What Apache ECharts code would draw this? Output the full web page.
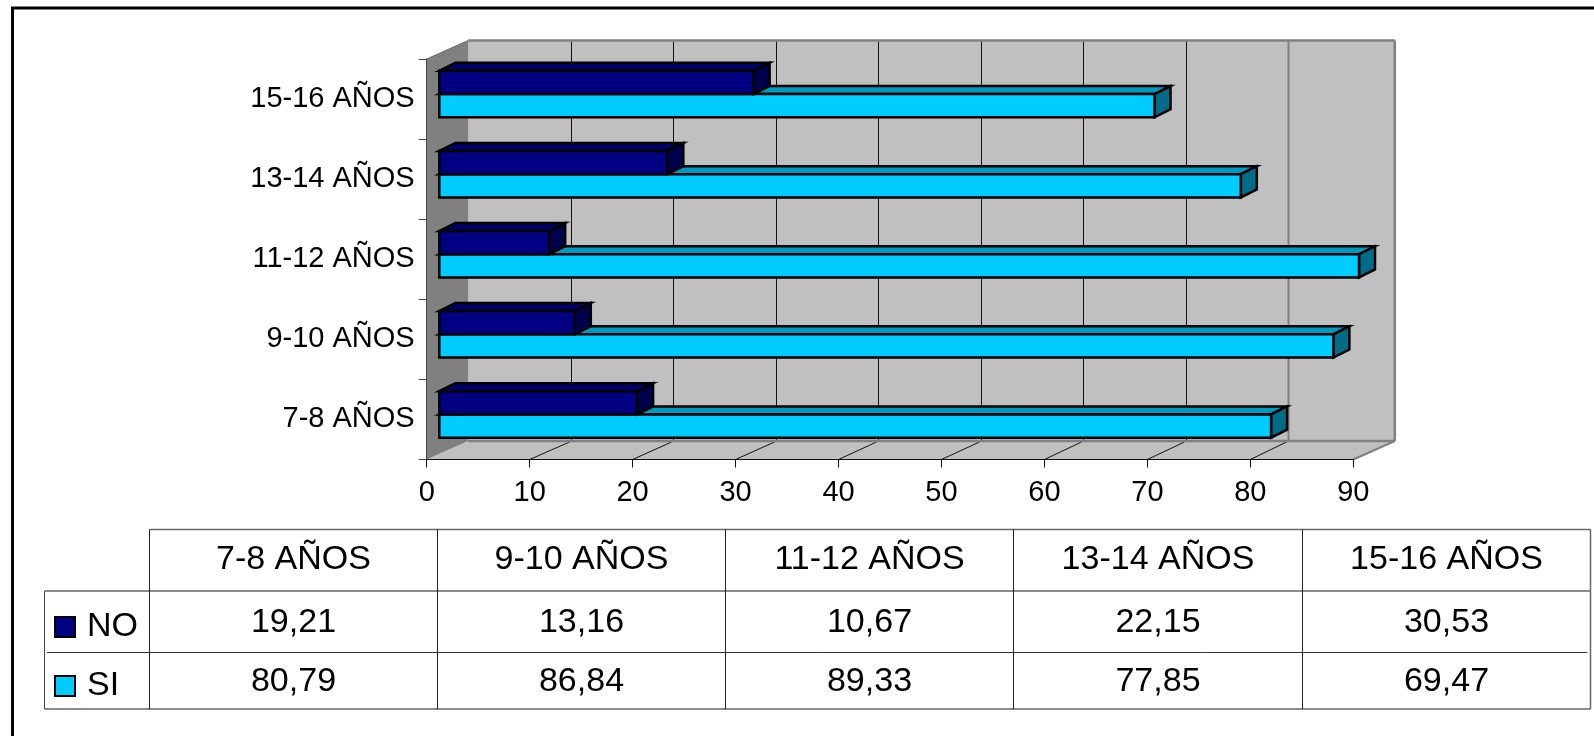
<!DOCTYPE html>
<html><head><meta charset="utf-8">
<style>html,body{margin:0;padding:0;background:#fff}#c{width:1594px;height:736px}</style>
<script src="https://cdn.jsdelivr.net/npm/echarts@6/dist/echarts.min.js"></script>
</head><body><div id="c"></div>
<script>
const categories = ['7-8 AÑOS','9-10 AÑOS','11-12 AÑOS','13-14 AÑOS','15-16 AÑOS'];
const noValues = [19.21,13.16,10.67,22.15,30.53];
const siValues = [80.79,86.84,89.33,77.85,69.47];
const xTicks = [0,10,20,30,40,50,60,70,80,90];
const FONT = '"Liberation Sans", Arial, sans-serif';

const chart = echarts.init(document.getElementById('c'), null, {renderer:'canvas'});

const wallDepth = [41.5,-18.5], barPlane = [12.6,-5], barDepth = [16,-8], barFrac = 0.29, backScale = 0.9955;

function wallItem(params, api){
  const r = params.coordSys, x0=r.x, x1=r.x+r.width, y0=r.y, y1=r.y+r.height;
  const dx=wallDepth[0], dy=wallDepth[1];
  const kids=[];
  const poly=(pts,fill)=>kids.push({type:'polygon',shape:{points:pts},style:{fill:fill}});
  const line=(a,b,c,w)=>kids.push({type:'line',shape:{x1:a[0],y1:a[1],x2:b[0],y2:b[1]},style:{stroke:c,lineWidth:w}});
  poly([[x0+dx,y0+dy],[x1+dx,y0+dy],[x1+dx,y1+dy],[x0+dx,y1+dy]],'#c0c0c0');
  poly([[x0,y1],[x0+dx,y1+dy],[x1+dx,y1+dy],[x1,y1]],'#c0c0c0');
  poly([[x0,y0],[x0+dx,y0+dy],[x0+dx,y1+dy],[x0,y1]],'#808080');
  xTicks.forEach(v=>{
    if(v===0||v===90) return;
    const x=api.coord([v,0])[0];
    const bx=Math.round(x0+dx+(x-x0)*backScale)+0.5;
    line([bx,y0+dy],[bx,y1+dy], v===80?'#808080':'#111', v===80?2:1);
    line([x,y1],[bx-2,y1+dy+1],'#111',1);
  });
  line([x0+dx,y0+dy],[x1+dx,y0+dy],'#808080',2.5);
  line([x1+dx,y0+dy],[x1+dx,y1+dy],'#808080',2.5);
  line([x0+dx,y1+dy],[x1+dx,y1+dy],'#808080',2.5);
  line([x1,y1],[x1+dx,y1+dy],'#808080',2);
  line([x0,y0],[x0+dx,y0+dy],'#666',1);
  return {type:'group',children:kids};
}

function barRenderer(side, front, top, right){
  return function(params, api){
    const cat=api.value(1);
    const p0=api.coord([0,cat]), p1=api.coord([api.value(0),cat]);
    const h=api.size([0,1])[1]*barFrac;
    const xa=p0[0]+barPlane[0], xb=p1[0]+barPlane[0], yc=p0[1]+barPlane[1];
    const ya= side<0? yc-h : yc, yb= side<0? yc : yc+h;
    const dx=barDepth[0], dy=barDepth[1];
    const st=f=>({fill:f,stroke:'#000',lineWidth:2.5,lineJoin:'miter'});
    return {type:'group',children:[
      {type:'polygon',shape:{points:[[xa,ya],[xa+dx,ya+dy],[xb+dx,ya+dy],[xb,ya]]},style:st(top)},
      {type:'polygon',shape:{points:[[xb,ya],[xb+dx,ya+dy],[xb+dx,yb+dy],[xb,yb]]},style:st(right)},
      {type:'rect',shape:{x:xa,y:ya,width:xb-xa,height:yb-ya},style:st(front)}
    ]};
  };
}

// table
const colX=[149.5,437.5,725.5,1013.5,1302.5,1590.5], rowY=[529.5,591,653,709];
const tableLeft=44.5;
const tg=[];
const seg=(a,b,c,d,col,w)=>tg.push({type:'line',silent:true,shape:{x1:a,y1:b,x2:c,y2:d},style:{stroke:col,lineWidth:w},z:5});
seg(colX[0],rowY[0],colX[5],rowY[0],'#666',1.5);
seg(tableLeft,rowY[1],colX[5],rowY[1],'#666',1.5);
seg(47,rowY[2]-0.5,1587.5,rowY[2]-0.5,'#333',1);
seg(tableLeft,rowY[3],colX[5],rowY[3],'#666',1.5);
seg(tableLeft,rowY[1],tableLeft,rowY[3],'#444',1);
colX.slice(0,5).forEach(x=>seg(x,rowY[0],x,rowY[3],'#222',1));
seg(colX[5],rowY[0],colX[5],rowY[3],'#666',1.5);
const cell=(t,i,r,dy)=>tg.push({type:'text',silent:true,z:6,x:(colX[i]+colX[i+1])/2,y:(rowY[r]+rowY[r+1])/2+dy,
  style:{text:t,fontFamily:FONT,fontSize:34,fill:'#000',align:'center',verticalAlign:'middle'}});
const fmt=v=>v.toFixed(2).replace('.',',');
categories.forEach((c,i)=>{
  cell(c,i,0,-1);
  cell(fmt(noValues[i]),i,1,1);
  cell(fmt(siValues[i]),i,2,1);
});
// outer frame
tg.push({type:'line',silent:true,shape:{x1:12.5,y1:8,x2:12.5,y2:736},style:{stroke:'#000',lineWidth:3}});
tg.push({type:'line',silent:true,shape:{x1:11,y1:8,x2:1594,y2:8},style:{stroke:'#000',lineWidth:3}});

chart.setOption({
  animation:false,
  backgroundColor:'#fff',
  textStyle:{fontFamily:FONT},
  grid:{left:426.7,width:926.6,top:59,height:400.5,containLabel:false},
  xAxis:{type:'value',min:0,max:90,interval:10,z:4,
    axisLine:{show:true,onZero:false,lineStyle:{color:'#111',width:1}},
    axisTick:{show:true,length:8,lineStyle:{color:'#111',width:1}},
    axisLabel:{fontSize:29,color:'#000',margin:19,fontFamily:FONT},
    splitLine:{show:false}},
  yAxis:{type:'category',data:categories,z:4,
    axisLine:{show:true,lineStyle:{color:'#444',width:1}},
    axisTick:{show:true,length:8,alignWithLabel:false,lineStyle:{color:'#444',width:1}},
    axisLabel:{fontSize:29,color:'#000',margin:12,fontFamily:FONT,padding:[8,0,0,0]},
    splitLine:{show:false}},
  legend:{show:true,orient:'vertical',left:54,top:610,padding:0,itemWidth:20,itemHeight:20,itemGap:25,selectedMode:false,
    textStyle:{fontSize:34,color:'#000',fontFamily:FONT,padding:[0,0,8,7]},
    data:[{name:'NO',icon:'rect',itemStyle:{color:'#000080',borderColor:'#000',borderWidth:2}},
          {name:'SI',icon:'rect',itemStyle:{color:'#00ccff',borderColor:'#000',borderWidth:2}}]},
  graphic:tg,
  series:[
    {type:'custom',name:'walls',silent:true,z:1,renderItem:wallItem,data:[[0,0]],encode:{x:0,y:1}},
    {type:'custom',name:'SI',z:2,itemStyle:{color:'#00ccff'},renderItem:barRenderer(1,'#00ccff','#0099c0','#006c88'),
      data:siValues.map((v,i)=>[v,i]),encode:{x:0,y:1}},
    {type:'custom',name:'NO',z:3,itemStyle:{color:'#000080'},renderItem:barRenderer(-1,'#000080','#000066','#00004d'),
      data:noValues.map((v,i)=>[v,i]),encode:{x:0,y:1}}
  ]
});
</script></body></html>
